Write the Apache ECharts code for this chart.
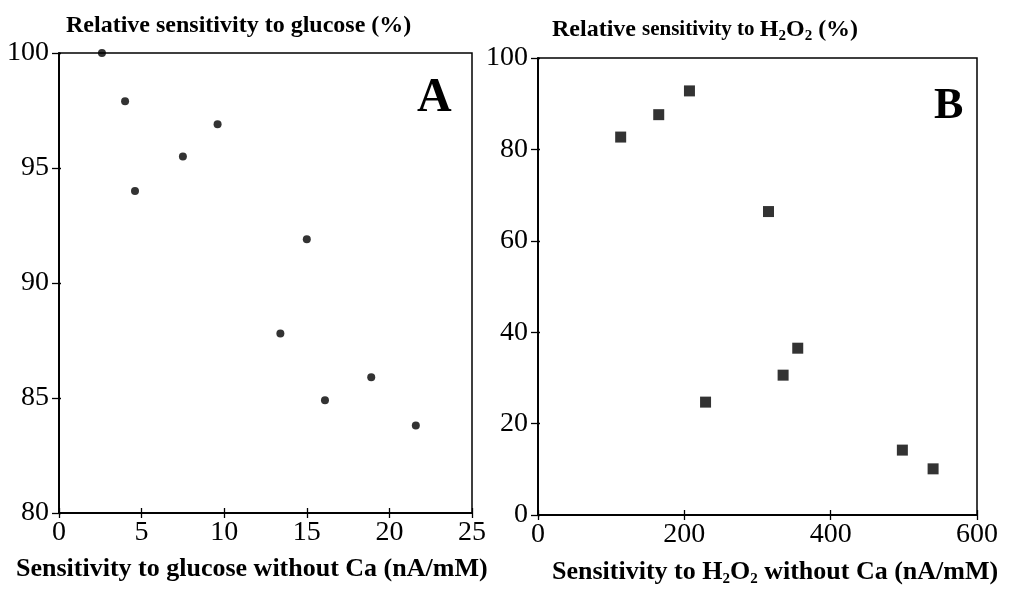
<!DOCTYPE html>
<html>
<head>
<meta charset="utf-8">
<script src="https://cdn.jsdelivr.net/npm/echarts@6/dist/echarts.min.js"></script>
<style>
  html, body { margin: 0; padding: 0; background: #fff; }
  #box { width: 1018px; height: 593px; }
</style>
</head>
<body>
<div id="box"></div>
<script>
// panel A: glucose
var glucoseX = [2.6, 4.0, 4.6, 7.5, 9.6, 13.4, 15.0, 16.1, 18.9, 21.6];
var glucoseY = [100, 97.9, 94.0, 95.5, 96.9, 87.8, 91.9, 84.9, 85.9, 83.8];
// panel B: H2O2
var peroxX = [113, 165, 207, 229, 315, 335, 355, 498, 540];
var peroxY = [82.7, 87.6, 92.8, 24.7, 66.4, 30.6, 36.5, 14.2, 10.1];

var serif = 'Liberation Serif';

function pairs(xs, ys) {
    return xs.map(function (x, i) { return [x, ys[i]]; });
}

// two axes per side so the ticks cross the axis line
function xAxes(grid, max, interval) {
    var base = {
        gridIndex: grid, type: 'value', min: 0, max: max, interval: interval,
        position: 'bottom', splitLine: {show: false},
        axisLine: {lineStyle: {color: '#000', width: 1.5}}
    };
    return [
        Object.assign({}, base, {
            axisTick: {length: 5, lineStyle: {color: '#000', width: 1.3}},
            axisLabel: {color: '#000', fontFamily: serif, fontSize: 28, margin: 6}
        }),
        Object.assign({}, base, {
            axisTick: {inside: true, length: 5, lineStyle: {color: '#000', width: 1.3}},
            axisLabel: {show: false}
        })
    ];
}
function yAxes(grid, min, max, interval) {
    var base = {
        gridIndex: grid, type: 'value', min: min, max: max, interval: interval,
        position: 'left', splitLine: {show: false},
        axisLine: {lineStyle: {color: '#000', width: 1.5}}
    };
    return [
        Object.assign({}, base, {
            axisTick: {length: 7, lineStyle: {color: '#000', width: 1.3}},
            axisLabel: {color: '#000', fontFamily: serif, fontSize: 28, margin: 10}
        }),
        Object.assign({}, base, {
            axisTick: {inside: true, length: 2, lineStyle: {color: '#000', width: 1.3}},
            axisLabel: {show: false}
        })
    ];
}

var chart = echarts.init(document.getElementById('box'));
var bold = {color: '#000', fontFamily: serif, fontWeight: 'bold', fontSize: 24};
var boldX = {color: '#000', fontFamily: serif, fontWeight: 'bold', fontSize: 26};
// subscript 2: small and pushed down
var sub = {color: '#000', fontFamily: serif, fontWeight: 'bold', fontSize: 15,
           verticalAlign: 'bottom', padding: [14, 0, 0, 0]};

var option = {
    backgroundColor: '#fff',
    animation: false,
    grid: [
        {left: 59, top: 53, width: 413, height: 460, show: true, borderColor: '#000', borderWidth: 1.5},
        {left: 538, top: 58, width: 439, height: 457, show: true, borderColor: '#000', borderWidth: 1.5}
    ],
    xAxis: xAxes(0, 25, 5).concat(xAxes(1, 600, 200)),
    yAxis: yAxes(0, 80, 100, 5).concat(yAxes(1, 0, 100, 20)),
    title: [
        {text: 'Relative sensitivity to glucose (%)', left: 61, top: 9, textStyle: bold},
        {text: 'Sensitivity to glucose without Ca (nA/mM)', left: 11, top: 551, textStyle: boldX},
        {
            text: '{a|Relative }{b|sensitivity to }{a|H}{s|2}{a|O}{s|2}{a| (%)}',
            left: 547, top: 10,
            textStyle: {rich: {
                a: bold,
                b: {color: '#000', fontFamily: serif, fontWeight: 'bold', fontSize: 21},
                s: sub
            }}
        },
        {
            text: '{a|Sensitivity to H}{s|2}{a|O}{s|2}{a| without Ca (nA/mM)}',
            left: 547, top: 553,
            textStyle: {rich: {a: boldX, s: sub}}
        },
        {text: 'A', left: 412, top: 70, textStyle: {color: '#000', fontFamily: serif, fontWeight: 'bold', fontSize: 48}},
        {text: 'B', left: 929, top: 80, textStyle: {color: '#000', fontFamily: serif, fontWeight: 'bold', fontSize: 44}}
    ],
    series: [
        {
            type: 'scatter', xAxisIndex: 0, yAxisIndex: 0,
            symbol: 'circle', symbolSize: 8, clip: false,
            itemStyle: {color: '#000'},
            data: pairs(glucoseX, glucoseY)
        },
        {
            type: 'scatter', xAxisIndex: 2, yAxisIndex: 2,
            symbol: 'rect', symbolSize: 11, clip: false,
            itemStyle: {color: '#000'},
            data: pairs(peroxX, peroxY)
        }
    ]
};
chart.setOption(option);
</script>
</body>
</html>
